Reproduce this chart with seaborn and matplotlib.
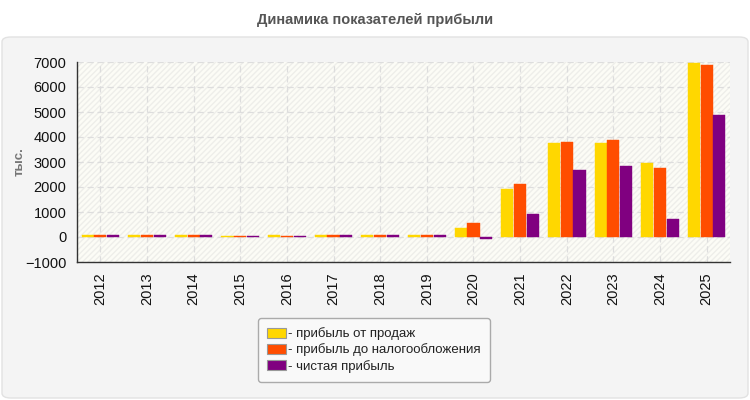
import matplotlib.pyplot as plt
from matplotlib.patches import FancyBboxPatch, Rectangle
import numpy as np, pandas as pd
import seaborn as sns

years = [str(y) for y in range(2012, 2026)]
sales_profit = [80, 80, 80, 30, 100, 80, 80, 80, 370, 1940, 3770, 3770, 2980, 6980]
pretax_profit = [80, 80, 80, 30, 40, 100, 80, 80, 545, 2130, 3820, 3900, 2780, 6900]
net_profit = [80, 80, 80, 30, 40, 80, 80, 80, -95, 940, 2700, 2860, 740, 4900]
series_names = ["прибыль от продаж", "прибыль до налогообложения", "чистая прибыль"]
colors = ["#FFD700", "#FF4D00", "#800080"]

df = pd.DataFrame({
    "year": years * 3,
    "value": sales_profit + pretax_profit + net_profit,
    "series": [s for s in series_names for _ in years],
})

sns.set_style("white")
plt.rcParams["font.family"] = ["Liberation Sans", "DejaVu Sans"]

fig = plt.figure(figsize=(7.5, 4), dpi=100)
fig.patch.set_facecolor("white")

# grey panel behind the chart
panel = FancyBboxPatch((2 / 750, 2 / 400), 746 / 750, 361 / 400,
                       boxstyle="round,pad=0,rounding_size=0.012",
                       transform=fig.transFigure, facecolor="#f4f4f4",
                       edgecolor="#e2e2e2", linewidth=1, zorder=-10)
fig.patches.append(panel)

fig.text(0.5, 1 - 20 / 400, "Динамика показателей прибыли", ha="center", va="center",
         fontsize=10.5, fontweight="bold", color="#555555")

ax = fig.add_axes([77 / 750, 138 / 400, 653 / 750, 200 / 400])
ax.set_zorder(1)
ax.set_facecolor("#fcfcf6")
ax.add_patch(Rectangle((0, 0), 1, 1, transform=ax.transAxes, facecolor="none",
                       edgecolor="#eeeeea", hatch="//////", linewidth=0, zorder=0))

sns.barplot(data=df, x="year", y="value", hue="series", palette=colors,
            width=0.82, gap=0.05, ax=ax, legend=False, saturation=1, zorder=3,
            linewidth=0.3)
for bar in ax.patches[1:]:
    bar.set_edgecolor(bar.get_facecolor())

ax.set_ylim(-1000, 7000)
ax.set_yticks(range(-1000, 7001, 1000))
ax.grid(True, color="#dddddd", linestyle=(0, (5, 3)), linewidth=0.9)
ax.set_axisbelow(True)
for s in ["top", "right"]:
    ax.spines[s].set_visible(False)
for s in ["left", "bottom"]:
    ax.spines[s].set_color("#333333")
    ax.spines[s].set_linewidth(1)
ax.tick_params(axis="both", labelsize=10.5, colors="#333333", labelcolor="#111111",
               length=4, width=1)
plt.setp(ax.get_xticklabels(), rotation=90)
ax.set_xlabel("")
ax.set_ylabel("тыс.", fontsize=9.5, fontweight="bold", color="#777777", labelpad=0)

handles = [Rectangle((0, 0), 1, 1, facecolor=c, edgecolor="#999999", linewidth=0.8)
           for c in colors]
leg = fig.legend(handles, ["- " + s for s in series_names], loc="center",
                 bbox_to_anchor=(374 / 750, 1 - 350 / 400), frameon=True, fontsize=9.5,
                 handlelength=1.4, handleheight=0.8, handletextpad=0.2,
                 labelspacing=0.25, borderpad=0.7, fancybox=True)
leg.get_frame().set_facecolor("#f9f9f9")
leg.get_frame().set_edgecolor("#aaaaaa")
leg.get_frame().set_alpha(1)
for t in leg.get_texts():
    t.set_color("#222222")

fig.savefig("out.png", dpi=100)
